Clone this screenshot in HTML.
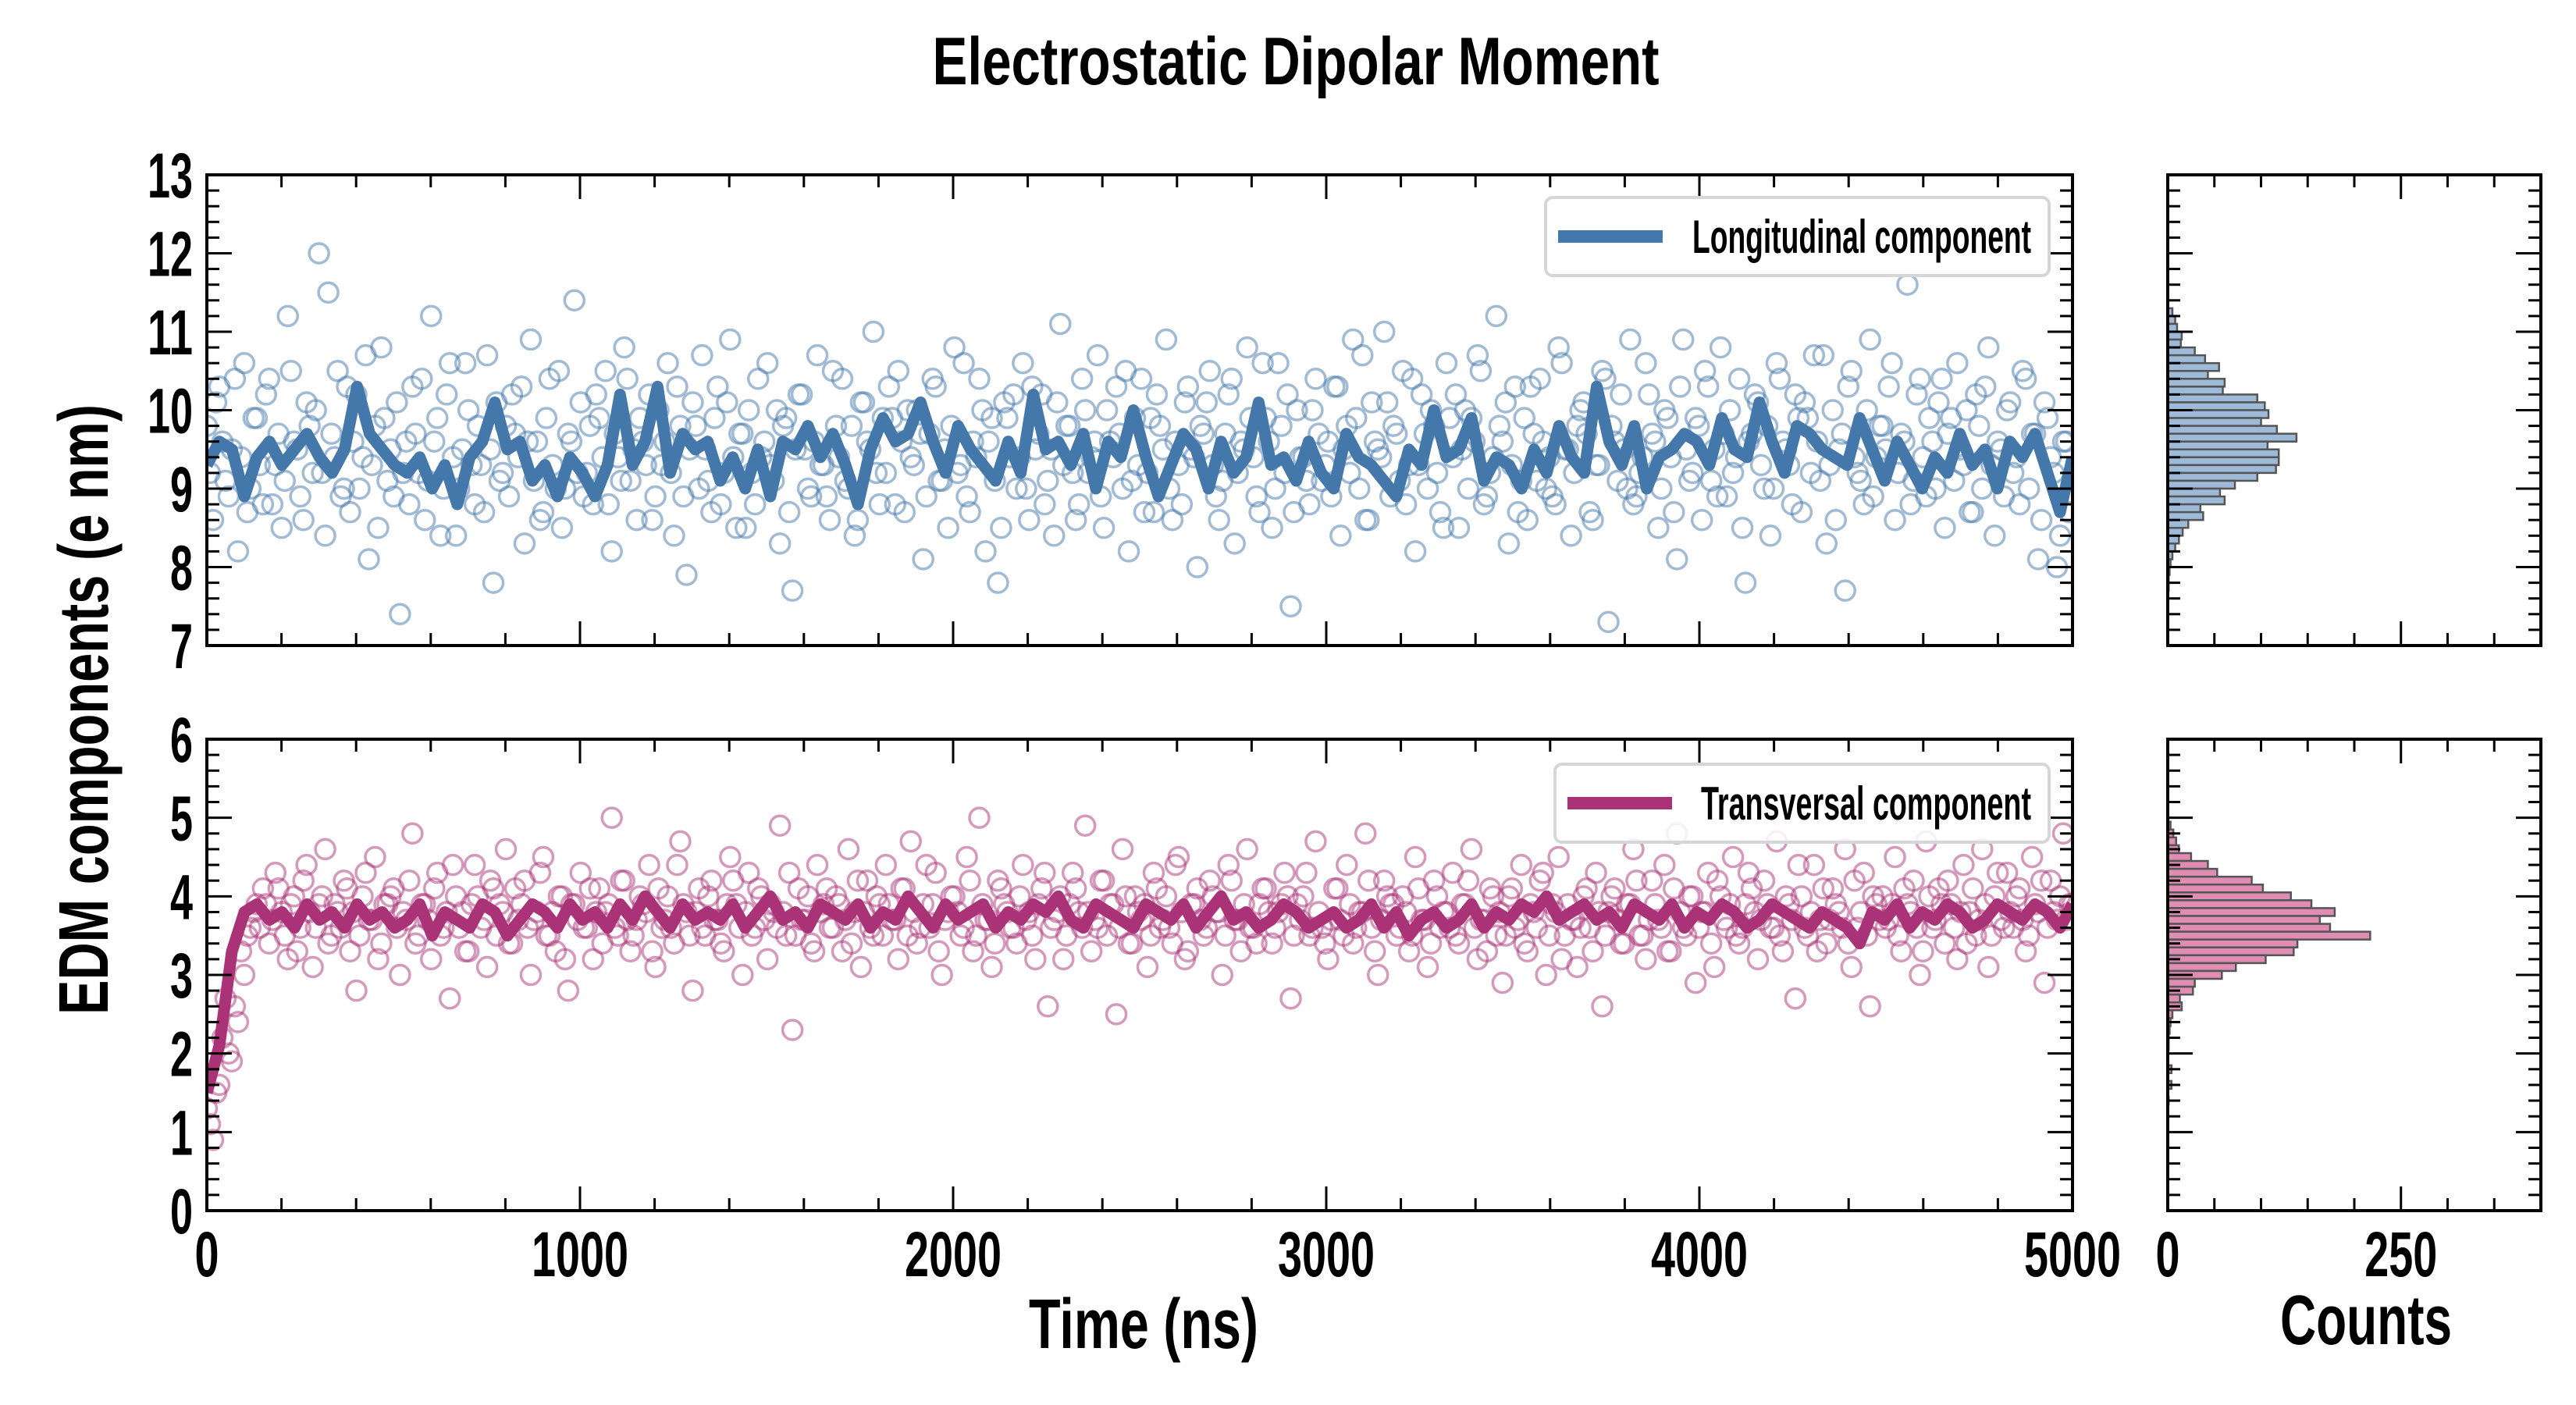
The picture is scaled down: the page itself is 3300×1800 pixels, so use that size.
<!DOCTYPE html>
<html>
<head>
<meta charset="utf-8">
<style>
html,body{margin:0;padding:0;background:#fff;}
svg{display:block;}
text{font-family:"Liberation Sans Narrow","Liberation Sans",sans-serif;font-weight:bold;fill:#000;}
</style>
</head>
<body>
<svg id="fig" xmlns="http://www.w3.org/2000/svg" width="3300" height="1800" viewBox="0 0 3300 1800">
<defs>
<clipPath id="clipTop"><rect x="265" y="224" width="2390" height="603"/></clipPath>
<clipPath id="clipBot"><rect x="265" y="947" width="2390" height="604"/></clipPath>
</defs>
<text x="1660" y="108" font-size="86" text-anchor="middle" textLength="931" lengthAdjust="spacingAndGlyphs">Electrostatic Dipolar Moment</text>
<text x="1465" y="1727" font-size="90" text-anchor="middle" textLength="294" lengthAdjust="spacingAndGlyphs">Time (ns)</text>
<text x="3031" y="1722" font-size="90" text-anchor="middle" textLength="220" lengthAdjust="spacingAndGlyphs">Counts</text>
<text x="0" y="0" font-size="90" text-anchor="middle" textLength="782" lengthAdjust="spacingAndGlyphs" transform="translate(138,909) rotate(-90)">EDM components (e nm)</text>
<g id="layer"></g>
</svg>
<script>
// ---- data ----
const longScatter = [
9.8,8.6,10.3,9.1,9.5,8.2,10.6,9.0,9.9,8.8,
10.4,9.3,8.5,11.2,9.6,8.9,10.1,9.2,12.0,8.4,
9.7,10.5,9.0,8.7,10.2,9.4,8.1,9.8,10.8,9.1,
8.9,7.4,9.6,10.3,9.2,8.6,11.2,9.9,9.0,10.6,
8.4,9.5,10.0,8.8,9.3,10.7,7.8,9.1,9.8,10.2,
9.4,8.3,10.9,9.6,8.7,10.4,9.0,8.5,9.7,11.4,
10.1,9.2,8.8,9.9,10.5,8.2,9.4,10.8,9.1,8.6,
9.6,10.2,8.9,9.3,10.6,8.4,9.8,7.9,10.1,9.0,
9.5,8.7,10.3,9.2,10.9,8.5,9.7,10.0,8.8,9.4,
10.6,9.1,8.3,9.9,7.7,10.2,9.5,8.9,10.7,9.3,
8.6,9.8,10.4,9.0,8.4,10.1,9.6,11.0,8.8,9.2,
9.9,10.5,8.7,9.4,10.0,8.1,9.7,10.3,9.1,8.5,
10.8,9.3,8.9,9.6,10.4,8.2,9.9,7.8,10.1,9.4,
9.0,10.6,8.6,9.5,10.2,9.1,8.4,11.1,9.8,9.2,
8.8,10.0,9.4,10.7,8.5,9.6,10.3,9.0,8.2,9.9,
10.4,9.2,8.7,9.8,10.9,8.6,9.3,10.1,9.5,8.0,
9.7,10.5,8.9,9.1,10.2,8.3,9.6,10.8,9.4,8.7,
9.9,8.5,10.6,9.2,7.5,10.0,9.4,8.8,10.4,9.1,
9.6,10.3,8.4,9.8,10.9,9.0,8.6,10.1,9.5,11.0,
8.9,9.7,10.5,9.3,8.2,10.2,9.0,9.8,8.7,10.6,
9.4,8.5,10.0,9.9,10.7,8.8,9.2,11.2,9.6,8.3,
10.3,9.1,8.6,9.7,10.4,9.0,8.9,10.8,9.5,8.4,
9.8,10.1,8.7,9.3,10.5,7.3,9.6,10.2,9.0,8.8,
9.2,10.6,9.7,8.5,10.0,9.4,8.1,10.9,9.1,9.9,
8.6,10.3,9.5,10.8,8.9,9.2,10.4,7.8,9.7,10.1,
9.0,8.4,10.6,9.6,9.3,10.2,8.7,9.9,10.7,9.1,
8.3,10.0,9.5,7.7,10.5,9.2,8.8,10.9,9.4,9.8,
10.3,8.6,9.7,11.6,9.1,10.4,8.9,9.6,10.1,8.5,
9.9,10.6,9.3,8.7,10.2,9.0,10.8,8.4,9.5,10.0,
9.2,8.8,10.4,9.7,8.1,10.1,9.4,8.0,9.6,8.7];
const longScatterB = [
9.2,10.1,9.6,8.9,10.4,9.4,8.7,9.9,9.3,10.2,
8.8,9.7,9.1,10.5,9.5,8.6,9.8,10.0,9.2,11.5,
9.4,8.9,10.3,9.6,9.0,10.7,9.3,8.5,9.9,9.5,
10.1,9.2,8.8,9.7,10.4,9.1,9.6,8.4,10.2,9.4,
9.0,10.6,9.3,9.8,8.7,9.5,10.1,9.2,8.9,9.7,
10.3,9.6,9.1,8.6,9.9,9.3,10.5,9.0,9.6,9.2,
8.9,9.8,10.2,9.4,8.8,9.7,9.1,10.4,9.5,9.9,
9.3,8.6,10.0,9.6,9.2,10.3,8.9,9.5,9.8,10.7,
9.1,9.9,8.8,10.1,9.4,9.7,8.5,9.2,10.4,9.6,
9.3,10.0,9.8,8.7,9.5,10.2,9.0,9.6,9.3,8.9,
10.5,9.4,9.1,9.8,8.6,10.1,9.5,9.2,9.9,10.3,
8.8,9.6,10.0,9.3,9.7,8.9,10.4,9.1,9.5,9.8,
9.2,10.6,8.7,9.4,10.0,9.6,9.1,8.5,9.9,10.2,
9.4,9.0,10.3,9.7,8.8,9.5,10.1,9.3,9.8,8.6,
10.4,9.2,9.6,8.9,10.0,9.4,9.7,10.5,9.1,9.3,
8.7,9.9,10.2,9.5,9.0,9.6,8.8,10.3,9.4,9.8,
10.1,9.3,8.6,9.7,10.4,9.2,9.5,9.9,8.9,10.6,
9.6,9.0,9.8,10.2,8.7,9.4,9.1,10.0,9.7,9.3,
8.9,10.3,9.5,9.2,9.9,10.7,8.6,9.6,9.4,10.1,
9.8,9.1,8.8,10.4,9.3,9.7,10.0,9.2,8.5,9.9,
10.2,9.5,9.0,9.6,10.5,8.9,9.4,9.8,10.1,9.3,
8.7,9.9,10.3,9.1,9.6,9.4,8.8,10.6,9.5,9.2,
10.0,9.7,8.6,9.3,10.4,9.8,9.1,9.5,10.9,8.9,
9.4,10.2,9.6,9.0,9.9,8.7,10.3,9.5,9.2,9.8,
10.5,9.1,8.9,9.7,10.0,9.4,8.5,9.6,10.2,9.3,
9.8,9.0,10.4,9.5,8.8,9.9,10.1,9.2,9.6,10.7,
9.3,8.6,9.7,10.3,9.4,9.1,10.0,8.9,9.8,9.5,
10.6,9.2,9.6,8.8,10.2,9.4,9.9,9.0,10.4,9.7,
9.1,9.5,10.0,8.7,9.8,10.3,9.3,9.6,8.9,10.1,
9.4,10.5,9.0,9.7,8.6,9.9,9.2,8.4,9.6,9.1];
const longLine = [
9.3,9.6,9.5,8.9,9.4,9.6,9.3,9.5,9.7,9.4,
9.2,9.5,10.3,9.7,9.5,9.3,9.2,9.4,9.0,9.3,
8.8,9.4,9.6,10.1,9.5,9.6,9.1,9.3,8.9,9.4,
9.2,8.9,9.3,10.2,9.3,9.6,10.3,9.2,9.7,9.5,
9.6,9.1,9.4,9.0,9.5,8.9,9.6,9.5,9.8,9.4,
9.7,9.3,8.8,9.5,9.9,9.6,9.7,10.1,9.6,9.2,
9.8,9.5,9.3,9.1,9.6,9.2,10.2,9.5,9.6,9.3,
9.7,9.0,9.6,9.4,10.0,9.4,8.9,9.3,9.7,9.5,
9.0,9.6,9.2,9.4,10.1,9.3,9.4,9.1,9.6,9.2,
9.0,9.7,9.4,9.3,9.1,8.9,9.5,9.3,10.0,9.4,
9.5,9.9,9.1,9.4,9.3,9.0,9.5,9.2,9.8,9.4,
9.2,10.3,9.6,9.3,9.8,9.0,9.4,9.5,9.7,9.6,
9.3,9.9,9.5,9.4,10.1,9.6,9.2,9.8,9.7,9.5,
9.4,9.3,9.9,9.5,9.1,9.6,9.3,9.0,9.4,9.2,
9.7,9.3,9.5,9.0,9.6,9.4,9.7,9.2,8.7,9.4];
const transScatter = [
1.3,0.9,1.6,2.7,1.9,2.4,3.0,3.6,3.9,4.1,
3.4,4.3,3.8,3.2,4.0,3.6,4.4,3.1,3.9,4.6,
3.5,3.8,4.2,3.3,2.8,4.0,3.7,4.5,3.4,3.9,
4.1,3.0,3.7,4.8,3.5,3.9,3.2,4.3,3.6,2.7,
4.0,3.8,3.3,4.4,3.6,3.1,4.1,3.9,4.6,3.4,
3.7,4.2,3.0,3.8,4.5,3.5,3.3,4.0,2.8,3.9,
4.3,3.6,3.2,4.1,3.8,5.0,3.5,4.2,3.3,3.7,
3.9,4.4,3.1,3.6,4.0,3.4,4.7,3.8,2.8,4.1,
3.5,4.2,3.7,3.3,4.5,3.9,3.0,4.3,3.6,4.0,
3.2,3.8,4.9,3.5,2.3,4.1,3.7,3.4,4.4,3.9,
3.6,4.0,3.3,4.6,3.8,3.1,4.2,3.5,3.9,4.4,
3.7,3.2,4.1,4.7,3.4,3.9,3.6,4.3,3.0,3.8,
4.0,3.5,4.5,3.3,5.0,3.7,3.1,4.2,3.9,3.6,
3.4,4.4,3.8,3.2,4.1,2.6,3.7,4.0,3.5,4.3,
3.8,4.9,3.3,3.6,4.2,3.9,2.5,4.6,3.4,4.0,
3.7,3.1,4.3,3.6,4.0,3.4,4.5,3.2,3.9,4.1,
3.5,4.2,3.8,3.0,4.4,3.7,3.3,4.6,3.6,3.9,
4.1,3.4,3.8,4.3,2.7,3.9,4.0,3.5,4.7,3.6,
3.2,4.1,3.7,4.4,3.4,3.8,4.8,3.6,3.0,4.2,
3.9,3.5,4.0,3.3,4.5,3.7,3.1,4.2,3.6,3.8,
4.3,3.4,3.9,4.6,3.2,3.7,4.1,3.5,2.9,4.0,
3.6,4.4,3.3,3.8,4.2,3.0,3.9,4.5,3.5,3.7,
3.1,4.0,3.6,4.3,2.6,3.8,4.1,3.4,3.9,4.6,
3.5,3.2,4.2,3.7,4.4,3.3,4.8,3.6,4.0,2.9,
3.8,4.3,3.1,4.0,3.6,4.5,3.4,3.9,4.1,3.2,
4.2,3.6,4.7,3.3,3.9,2.7,4.0,3.5,4.4,3.7,
3.4,4.1,3.8,4.6,3.1,3.6,4.3,2.6,3.9,4.0,
3.7,4.5,3.3,3.9,4.2,3.0,4.7,3.6,4.1,3.4,
3.9,3.2,4.4,3.8,3.5,4.6,3.1,4.0,3.7,4.3,
3.6,4.1,3.3,4.5,3.8,2.9,4.2,3.7,4.8,3.9];
const transScatterB = [
1.1,1.5,2.2,2.0,2.6,3.3,3.5,3.8,3.6,3.9,
3.7,4.1,3.5,3.9,3.3,4.2,3.8,3.6,4.0,3.4,
3.9,3.6,4.1,3.8,3.5,4.3,3.7,3.2,3.9,4.0,
3.6,3.8,4.2,3.4,3.9,3.7,4.1,3.5,3.8,4.4,
3.6,3.3,3.9,4.0,3.7,4.2,3.5,3.8,3.4,4.1,
3.9,3.6,3.7,4.3,3.5,3.8,4.0,3.2,3.9,3.7,
3.6,4.1,3.8,3.4,3.9,3.6,4.2,3.7,3.5,4.0,
3.8,3.3,4.1,3.7,3.6,4.4,3.9,3.5,3.8,3.6,
4.0,3.7,3.4,3.9,4.2,3.6,3.8,3.5,4.1,3.7,
3.9,3.6,3.8,4.3,3.5,3.7,4.0,3.3,3.8,4.1,
3.6,3.9,3.7,3.4,4.2,3.8,3.6,4.0,3.5,3.9,
3.7,4.1,3.5,3.8,3.6,4.4,3.9,3.3,3.7,4.0,
3.8,3.6,4.2,3.5,3.9,3.7,3.4,4.1,3.8,3.6,
4.0,3.7,3.5,3.9,4.3,3.6,3.8,3.2,3.9,4.1,
3.6,3.8,3.7,4.2,3.5,3.9,3.6,4.0,3.4,3.8,
3.9,3.5,4.1,3.7,3.6,4.4,3.8,3.3,3.9,3.7,
3.6,4.0,3.8,3.5,4.2,3.7,3.9,3.6,3.4,4.1,
3.8,3.6,3.9,4.0,3.5,3.7,4.3,3.6,3.8,3.4,
3.7,4.1,3.5,3.9,3.6,3.8,4.2,3.3,3.7,4.0,
3.9,3.6,3.8,3.5,4.1,3.7,3.4,4.0,3.8,3.6,
3.5,3.9,4.2,3.6,3.7,3.3,4.0,3.8,3.5,4.1,
3.7,3.4,3.9,3.6,4.3,3.5,3.8,3.2,3.9,3.7,
3.6,4.1,3.3,3.8,3.5,4.0,3.7,3.4,3.9,4.2,
3.5,3.7,3.9,3.6,3.3,4.1,3.8,3.5,4.0,3.6,
3.8,3.4,4.2,3.7,3.9,3.5,3.6,4.3,3.8,3.7,
3.9,3.6,3.5,4.0,3.7,4.4,3.6,3.8,3.3,4.1,
3.7,3.9,3.6,3.4,4.2,3.8,3.5,4.0,3.7,3.6,
3.9,3.5,4.1,3.8,3.6,3.3,4.0,3.7,3.9,4.2,
3.6,3.8,3.4,4.1,3.7,3.9,3.5,4.3,3.6,3.8,
4.0,3.7,3.5,3.9,4.2,3.6,3.8,4.0,3.7,3.9];
const transLine = [
1.5,2.1,3.3,3.8,3.9,3.7,3.8,3.6,3.9,3.7,
3.8,3.6,3.9,3.7,3.8,3.6,3.7,3.9,3.5,3.8,
3.7,3.6,3.9,3.8,3.5,3.7,3.9,3.8,3.6,3.9,
3.7,3.8,3.6,3.9,3.7,4.0,3.8,3.6,3.9,3.7,
3.8,3.7,3.9,3.6,3.8,4.0,3.7,3.8,3.6,3.9,
3.8,3.7,3.9,3.6,3.8,3.7,4.0,3.8,3.6,3.9,
3.7,3.8,3.9,3.6,3.8,3.7,3.9,3.8,4.0,3.7,
3.6,3.9,3.8,3.7,3.6,3.9,3.8,3.7,3.9,3.6,
3.8,4.0,3.7,3.8,3.6,3.7,3.9,3.8,3.6,3.7,
3.8,3.6,3.7,3.9,3.6,3.8,3.5,3.7,3.8,3.6,
3.7,3.9,3.6,3.8,3.7,3.9,3.8,4.0,3.7,3.8,
3.9,3.7,3.8,3.6,3.9,3.8,3.7,3.9,3.6,3.8,
3.7,3.9,3.8,3.6,3.7,3.9,3.8,3.7,3.6,3.8,
3.7,3.6,3.4,3.8,3.7,3.9,3.6,3.8,3.7,3.9,
3.8,3.6,3.7,3.9,3.8,3.7,3.9,3.8,3.6,3.9];
// histogram bins: top edge of first bin, counts going downward
const longHistTop = 11.3;
const longHistCounts = [5,8,10,15,14,29,40,55,43,61,59,96,104,108,100,117,138,107,119,119,116,96,72,56,61,35,38,22,16,12,8,5,3,2,1,1];
const transHistTop = 4.95;
const transHistCounts = [3,6,9,12,25,43,53,90,102,132,154,179,163,174,217,139,135,105,73,58,29,27,13,15,5,3,2,1,1,0,0,4,0,4,0,1];
const timeMax = 5000;
const xTicks = [0,1000,2000,3000,4000,5000];
const topYTicks = [7,8,9,10,11,12,13];
const botYTicks = [0,1,2,3,4,5,6];
const countTicks = [0,250];

// ---- axes ----
const NS='http://www.w3.org/2000/svg';
const layer=document.getElementById('layer');
const AX={l:265,r:2655}, TOP={t:224,b:827,min:7,max:13}, BOT={t:947,b:1551,min:0,max:6}, H={l:2777,r:3255,max:400};
const xs=t=>AX.l+t/timeMax*(AX.r-AX.l);
const ys=(p,v)=>p.b-(v-p.min)/(p.max-p.min)*(p.b-p.t);
const hx=c=>H.l+c/H.max*(H.r-H.l);
function mk(tag,attrs,parent){const e=document.createElementNS(NS,tag);for(const k in attrs)e.setAttribute(k,attrs[k]);(parent||layer).appendChild(e);return e;}

function scatter(vals,offset,p,color,clip,name){
  const g=mk('g',{'clip-path':'url(#'+clip+')'});
  
  
  const n=vals.length, step=timeMax/(n-0.5);
  vals.forEach((v,i)=>{
    const c=mk('circle',{cx:xs((i+offset)*step),cy:ys(p,v),r:12.5,fill:'none',stroke:color,'stroke-width':3.5,'stroke-opacity':0.5},g);
    
    
  });
}
function line(vals,p,color,clip,name){
  const n=vals.length;
  const d=vals.map((v,i)=>(i?'L':'M')+xs(i*timeMax/(n-1)).toFixed(1)+','+ys(p,v).toFixed(1)).join('');
  const e=mk('path',{d:d,fill:'none',stroke:color,'stroke-width':15,'stroke-linejoin':'round','clip-path':'url(#'+clip+')'});
  
  
}
function hist(counts,top,p,fill,name){
  const g=mk('g',{});
  
  
  counts.forEach((c,i)=>{
    if(!c)return;
    const y1=ys(p,top-i*0.1), y2=ys(p,top-(i+1)*0.1);
    const r=mk('rect',{x:H.l,y:y1,width:hx(c)-H.l,height:y2-y1,fill:fill,stroke:'#555','stroke-width':2.5},g);
    
    
  });
}
function frame(x1,x2,p,name){
  const r=mk('rect',{x:x1,y:p.t,width:x2-x1,height:p.b-p.t,fill:'none',stroke:'#000','stroke-width':4});
  
  
}
function yTicks(x1,x2,p,ticks,labels,name){
  const g=mk('g',{stroke:'#000','stroke-width':3});
  
  
  for(let k=0;k<=(p.max-p.min)*5;k++){
    const v=p.min+k*0.2, y=ys(p,v), major=(k%5===0), L=major?32:16;
    mk('line',{x1:x1,x2:x1+L,y1:y,y2:y},g);
    mk('line',{x1:x2,x2:x2-L,y1:y,y2:y},g);
  }
  if(labels) ticks.forEach(v=>{
    const s=String(v);
    const t=mk('text',{x:247,y:ys(p,v)+29,'font-size':82,'text-anchor':'end',textLength:s.length*29,lengthAdjust:'spacingAndGlyphs'});
    t.textContent=s;
    
    
  });
}
function xTicksMain(p,labels){
  const g=mk('g',{stroke:'#000','stroke-width':3});
  
  
  for(let t=0;t<=timeMax;t+=200){
    const x=xs(t), L=(t%1000===0)?31:16;
    mk('line',{x1:x,x2:x,y1:p.b,y2:p.b-L},g);
    mk('line',{x1:x,x2:x,y1:p.t,y2:p.t+L},g);
  }
  if(labels) xTicks.forEach(v=>{
    const s=String(v);
    const t=mk('text',{x:xs(v),y:1635,'font-size':82,'text-anchor':'middle',textLength:s.length*31,lengthAdjust:'spacingAndGlyphs'});
    t.textContent=s;
    
    
  });
}
function hTicks(p,labels){
  const g=mk('g',{stroke:'#000','stroke-width':3});
  
  
  for(let c=0;c<=H.max;c+=50){
    const x=hx(c), L=(c%250===0)?31:16;
    mk('line',{x1:x,x2:x,y1:p.b,y2:p.b-L},g);
    mk('line',{x1:x,x2:x,y1:p.t,y2:p.t+L},g);
  }
  if(labels) countTicks.forEach(v=>{
    const s=String(v);
    const t=mk('text',{x:hx(v),y:1635,'font-size':82,'text-anchor':'middle',textLength:s.length*31,lengthAdjust:'spacingAndGlyphs'});
    t.textContent=s;
    
    
  });
}
function legend(x,y,w,h,color,label,tw,name){
  const g=mk('g',{});
  
  
  mk('rect',{x:x,y:y,width:w,height:h,rx:9,fill:'#fff','fill-opacity':0.85,stroke:'#d6d6d6','stroke-width':4},g);
  mk('rect',{x:x+16,y:y+h/2-8,width:134,height:16,fill:color},g);
  const t=mk('text',{x:x+w-23,y:y+h/2+21,'font-size':60,'text-anchor':'end',textLength:tw,lengthAdjust:'spacingAndGlyphs'},g);
  t.textContent=label;
}

scatter(longScatter,0,TOP,'#4477aa','clipTop','longitudinal-scatter');
scatter(longScatterB,0.5,TOP,'#4477aa','clipTop','longitudinal-scatter-b');
line(longLine,TOP,'#4477aa','clipTop','longitudinal-line');
scatter(transScatter,0,BOT,'#aa3377','clipBot','transversal-scatter');
scatter(transScatterB,0.5,BOT,'#aa3377','clipBot','transversal-scatter-b');
line(transLine,BOT,'#aa3377','clipBot','transversal-line');
hist(longHistCounts,longHistTop,TOP,'#9dbad9','longitudinal-histogram');
hist(transHistCounts,transHistTop,BOT,'#e08cb3','transversal-histogram');
frame(AX.l,AX.r,TOP,'top-axes-frame');
frame(AX.l,AX.r,BOT,'bottom-axes-frame');
frame(H.l,H.r,TOP,'top-hist-frame');
frame(H.l,H.r,BOT,'bottom-hist-frame');
yTicks(AX.l,AX.r,TOP,topYTicks,true,'top-y-ticks');
yTicks(AX.l,AX.r,BOT,botYTicks,true,'bottom-y-ticks');
yTicks(H.l,H.r,TOP,topYTicks,false,'top-hist-y-ticks');
yTicks(H.l,H.r,BOT,botYTicks,false,'bottom-hist-y-ticks');
xTicksMain(TOP,false);
xTicksMain(BOT,true);
hTicks(TOP,false);
hTicks(BOT,true);
legend(1980,253,645,100,'#4477aa','Longitudinal component',434,'legend-longitudinal');
legend(1992,979,633,100,'#aa3377','Transversal component',423,'legend-transversal');
</script>
</body>
</html>
